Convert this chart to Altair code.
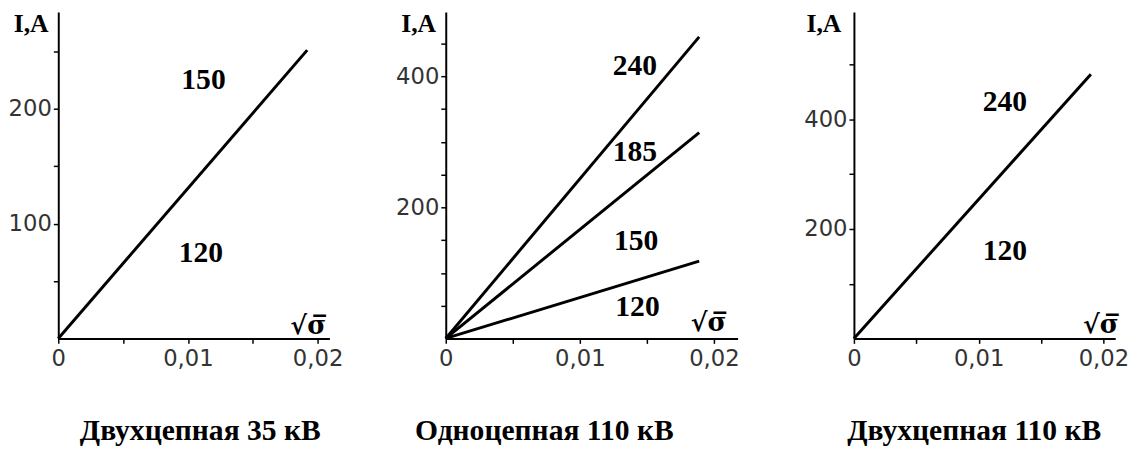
import altair as alt
import pandas as pd

# ---------------- data ----------------
# panel 1: Двухцепная 35 кВ
p1_series = ["150/120"]
p1_x_end = [0.0192]
p1_I_end = [251]
p1_lbl = ["150", "120"]
p1_lbl_x = [0.0112, 0.0110]
p1_lbl_y = [225, 74]

# panel 2: Одноцепная 110 кВ
p2_series = ["240", "185", "150/120"]
p2_x_end = [0.0189, 0.0189, 0.0189]
p2_I_end = [460, 314, 118]
p2_lbl = ["240", "185", "150", "120"]
p2_lbl_x = [0.0141, 0.0141, 0.0142, 0.0143]
p2_lbl_y = [416, 284, 149, 47]

# panel 3: Двухцепная 110 кВ
p3_series = ["240/120"]
p3_x_end = [0.0190]
p3_I_end = [483]
p3_lbl = ["240", "120"]
p3_lbl_x = [0.0121, 0.0121]
p3_lbl_y = [432, 160]

titles = ["Двухцепная 35 кВ", "Одноцепная 110 кВ", "Двухцепная 110 кВ"]

x_ticks = [0, 0.005, 0.01, 0.015, 0.02]
x_label_values = [0, 0.01, 0.02]
x_label_text = ["0", "0,01", "0,02"]

p1_y_ticks = [50, 100, 150, 200, 250]
p2_y_ticks = [50, 100, 150, 200, 250, 300, 350, 400, 450]
p3_y_ticks = [100, 200, 300, 400, 500]

H = 331
SERIF = "Liberation Serif"
SANS = "DejaVu Sans"


def label_expr(values, texts):
    expr = "''"
    for v, t in reversed(list(zip(values, texts))):
        expr = f"datum.value == {v} ? '{t}' : {expr}"
    return expr


def panel(series, x_end, I_end, lbl, lbl_x, lbl_y, y_ticks, y_labels,
          width, xmax, ymax, title, title_x, sig_x, sig_y, ia_x):
    rows = []
    for s, xe, ie in zip(series, x_end, I_end):
        rows.append({"s": s, "x": 0.0, "I": 0.0})
        rows.append({"s": s, "x": xe, "I": ie})
    df = pd.DataFrame(rows)

    xax = alt.Axis(values=x_ticks, labelExpr=label_expr(x_label_values, x_label_text),
                   title="√σ̅", titleX=sig_x, titleY=sig_y, titleAngle=0,
                   titleAlign="center", titleBaseline="middle",
                   titleFont="DejaVu Serif", titleFontSize=26, titleFontWeight="bold",
                   titleColor="black",
                   grid=False, domainColor="black", domainWidth=2, tickColor="black",
                   tickWidth=1.5, tickSize=5, labelFont=SANS, labelFontSize=23,
                   labelColor="#333", labelPadding=4, labelOverlap=False,
                   labelFlush=False, labelBound=False)
    yax = alt.Axis(values=y_ticks,
                   labelExpr=label_expr(y_labels, [str(v) for v in y_labels]),
                   title="I,A", titleX=ia_x, titleY=12, titleAngle=0,
                   titleAlign="center", titleBaseline="middle",
                   titleFont=SERIF, titleFontSize=26, titleFontWeight="bold",
                   titleColor="black",
                   grid=False, domainColor="black", domainWidth=2, tickColor="black",
                   tickWidth=1.5, tickSize=5, labelFont=SANS, labelFontSize=23,
                   labelColor="#333", labelPadding=2, labelOverlap=False,
                   labelFlush=False, labelBound=False)

    xs = alt.Scale(domain=[0, xmax], nice=False, zero=True)
    ys = alt.Scale(domain=[0, ymax], nice=False, zero=True)

    lines = alt.Chart(df).mark_line(color="black", strokeWidth=3).encode(
        x=alt.X("x:Q", scale=xs, axis=xax),
        y=alt.Y("I:Q", scale=ys, axis=yax),
        detail="s:N",
    )
    ldf = pd.DataFrame({"t": lbl, "x": lbl_x, "I": lbl_y})
    labels = alt.Chart(ldf).mark_text(font=SERIF, fontSize=30, fontWeight="bold",
                                      color="black", align="center",
                                      baseline="middle").encode(
        x=alt.X("x:Q", scale=xs), y=alt.Y("I:Q", scale=ys), text="t:N")
    tdf = pd.DataFrame({"t": [title]})
    ttl = alt.Chart(tdf).mark_text(font=SERIF, fontSize=30, fontWeight="bold",
                                   color="black", align="center",
                                   baseline="middle").encode(
        x=alt.value(title_x), y=alt.value(H + 94), text="t:N")
    return alt.layer(lines, labels, ttl).properties(width=width, height=H)


c1 = panel(p1_series, p1_x_end, p1_I_end, p1_lbl, p1_lbl_x, p1_lbl_y,
           p1_y_ticks, [100, 200], 275, 275 / 13150, H / 1.165, titles[0], 144,
           253, -13, -28)
c2 = panel(p2_series, p2_x_end, p2_I_end, p2_lbl, p2_lbl_x, p2_lbl_y,
           p2_y_ticks, [200, 400], 296, 296 / 13600, H / 0.665, titles[1], 100,
           266, -16, -28)
c3 = panel(p3_series, p3_x_end, p3_I_end, p3_lbl, p3_lbl_x, p3_lbl_y,
           p3_y_ticks, [200, 400], 265, 265 / 12650, H / 0.555, titles[2], 122,
           250, -14, -31)

chart = alt.hconcat(c1, c2, c3, spacing=118, bounds="flush").configure_view(
    stroke=None).properties(padding={"left": 0, "top": 0, "right": 0, "bottom": 0},
                            background="white")

chart.save("out.html", embed_options={"renderer": "svg", "actions": False})
